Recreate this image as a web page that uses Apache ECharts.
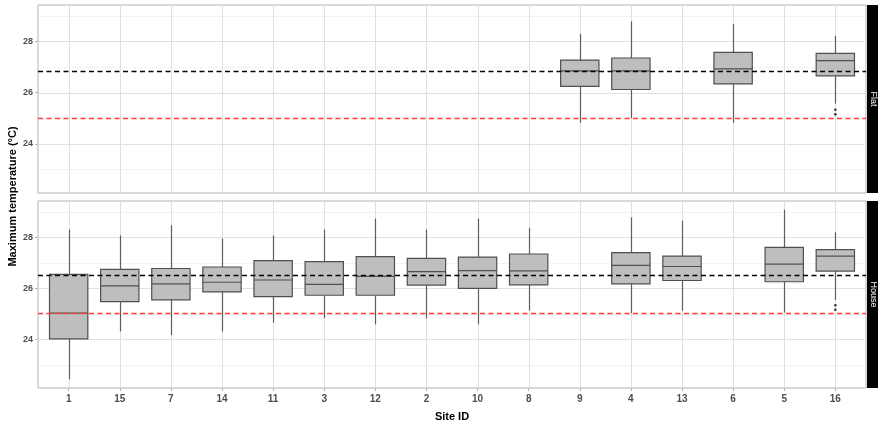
<!DOCTYPE html>
<html><head><meta charset="utf-8">
<script src="https://cdn.jsdelivr.net/npm/echarts@6/dist/echarts.min.js"></script>
<style>html,body{margin:0;padding:0;background:#fff}#c{width:878px;height:423px}</style>
</head><body><div id="c"></div>
<script>
// ---- data ----
const sites = ['1','15','7','14','11','3','12','2','10','8','9','4','13','6','5','16'];
const panelNames = ['Flat','House'];
// [site, lowerWhisker, q1, median, q3, upperWhisker]
const flatBoxes = [
  ['9', 24.82, 26.24, 26.85, 27.27, 28.30],
  ['4', 25.00, 26.12, 26.85, 27.35, 28.78],
  ['6', 24.82, 26.34, 26.93, 27.57, 28.68],
  ['16', 25.57, 26.65, 27.25, 27.53, 28.21]
];
const houseBoxes = [
  ['1', 22.42, 24.01, 25.02, 26.54, 28.30],
  ['15', 24.30, 25.47, 26.09, 26.74, 28.07],
  ['7', 24.16, 25.54, 26.17, 26.77, 28.47],
  ['14', 24.29, 25.85, 26.23, 26.83, 27.95],
  ['11', 24.65, 25.67, 26.32, 27.08, 28.07],
  ['3', 24.82, 25.72, 26.15, 27.04, 28.30],
  ['12', 24.58, 25.72, 26.46, 27.24, 28.73],
  ['2', 24.81, 26.12, 26.65, 27.17, 28.30],
  ['10', 24.58, 25.99, 26.69, 27.22, 28.73],
  ['8', 25.12, 26.13, 26.68, 27.34, 28.37],
  ['4', 25.02, 26.17, 26.89, 27.39, 28.78],
  ['13', 25.11, 26.30, 26.85, 27.26, 28.65],
  ['5', 25.04, 26.25, 26.94, 27.60, 29.08],
  ['16', 25.54, 26.67, 27.26, 27.51, 28.19]
];
const flatOutliers = [['16', 25.33], ['16', 25.15]];
const houseOutliers = [['16', 25.33], ['16', 25.15]];
const panelMeans = [26.85, 26.51];
const threshold = 25;
const yTickValues = [24, 26, 28];
const yMinorValues = [23, 25, 27, 29];

// ---- layout/style ----
const Y_MIN = 22.08, Y_MAX = 29.42;
const X_MIN = 0.4, X_MAX = sites.length + 0.6;
const grids = [
  {left: 38, top: 5, width: 828, height: 188},
  {left: 38, top: 201, width: 828, height: 187}
];
const FONT = '"Liberation Sans", Arial, sans-serif';
const posOf = s => sites.indexOf(s) + 1;
const xPositions = sites.map((s, i) => i + 1);

const boxSets = [flatBoxes, houseBoxes];
const outlierSets = [flatOutliers, houseOutliers];

const chart = echarts.init(document.getElementById('c'), null, {renderer: 'canvas'});

const xAxes = [], yAxes = [], series = [], gridOpts = [];
grids.forEach((g, i) => {
  gridOpts.push(Object.assign({show: true, borderColor: '#b3b3b3', borderWidth: 1, backgroundColor: 'transparent', containLabel: false}, g));
  const isBottom = i === grids.length - 1;
  xAxes.push({
    type: 'value', gridIndex: i, min: X_MIN, max: X_MAX,
    axisLine: {show: false}, splitLine: {show: false},
    axisTick: {show: isBottom, customValues: xPositions, length: 3, lineStyle: {color: '#b3b3b3'}},
    axisLabel: {show: isBottom, customValues: xPositions, margin: 6,
      formatter: v => sites[Math.round(v) - 1] || '',
      color: '#4d4d4d', fontSize: 10, fontWeight: 'bold', fontFamily: FONT},
    name: isBottom ? 'Site ID' : '', nameLocation: 'middle', nameGap: 23,
    nameTextStyle: {color: '#000', fontSize: 11, fontWeight: 'bold', fontFamily: FONT}
  });
  yAxes.push({
    type: 'value', gridIndex: i, min: Y_MIN, max: Y_MAX,
    axisLine: {show: false}, splitLine: {show: false},
    axisTick: {show: true, customValues: yTickValues, length: 3, lineStyle: {color: '#b3b3b3'}},
    axisLabel: {show: true, customValues: yTickValues, margin: 5,
      color: '#4d4d4d', fontSize: 9, fontWeight: 'bold', fontFamily: FONT}
  });
  // gridlines (custom series, drawn beneath the boxes)
  const gridData = [
    ...yMinorValues.map(v => [0, v, 0]),
    ...yTickValues.map(v => [0, v, 1]),
    ...xPositions.map(v => [1, v, 1])
  ];
  series.push({
    type: 'custom', xAxisIndex: i, yAxisIndex: i, z: 1, silent: true, animation: false, clip: true,
    data: gridData,
    encode: {x: -1, y: -1},
    renderItem: (params, api) => {
      const cs = params.coordSys;
      const kind = api.value(0), v = api.value(1), major = api.value(2);
      const style = {stroke: major ? '#e0e0e0' : '#eeeeee', lineWidth: major ? 1 : 0.7};
      if (kind === 0) {
        const y = Math.round(api.coord([X_MIN, v])[1]) + 0.5;
        return {type: 'line', shape: {x1: cs.x, y1: y, x2: cs.x + cs.width, y2: y}, style};
      }
      const x = Math.round(api.coord([v, Y_MIN])[0]) + 0.5;
      return {type: 'line', shape: {x1: x, y1: cs.y, x2: x, y2: cs.y + cs.height}, style};
    }
  });
  // boxes
  series.push({
    type: 'custom', xAxisIndex: i, yAxisIndex: i, z: 3, clip: true, animation: false,
    encode: {x: 0, y: [1, 2, 3, 4, 5]},
    data: boxSets[i].map(r => [posOf(r[0]), r[1], r[2], r[3], r[4], r[5]]),
    renderItem: (params, api) => {
      const x = api.value(0);
      const lo = api.coord([x, api.value(1)]);
      const q1 = api.coord([x - 0.375, api.value(2)]);
      const med = api.coord([x, api.value(3)]);
      const q3 = api.coord([x + 0.375, api.value(4)]);
      const hi = api.coord([x, api.value(5)]);
      const cx = Math.round(med[0]) + 0.5;
      const stroke = '#505050';
      const wStroke = '#5e5e5e';
      return {type: 'group', children: [
        {type: 'line', shape: {x1: cx, y1: hi[1], x2: cx, y2: q3[1]}, style: {stroke: wStroke, lineWidth: 1.2}},
        {type: 'line', shape: {x1: cx, y1: q1[1], x2: cx, y2: lo[1]}, style: {stroke: wStroke, lineWidth: 1.2}},
        {type: 'rect', shape: {x: q1[0], y: q3[1], width: q3[0] - q1[0], height: q1[1] - q3[1]},
          style: {fill: '#bebebe', stroke, lineWidth: 1.2}},
        {type: 'line', shape: {x1: q1[0], y1: med[1], x2: q3[0], y2: med[1]}, style: {stroke, lineWidth: 1.2}}
      ]};
    }
  });
  // outliers
  series.push({
    type: 'scatter', xAxisIndex: i, yAxisIndex: i, z: 4, silent: true, animation: false,
    symbol: 'circle', symbolSize: 2.6, itemStyle: {color: '#333', opacity: 1, borderWidth: 0},
    data: outlierSets[i].map(r => [posOf(r[0]), r[1]])
  });
  // reference lines
  series.push({
    type: 'line', xAxisIndex: i, yAxisIndex: i, data: [], silent: true, z: 5,
    markLine: {
      silent: true, symbol: ['none', 'none'], label: {show: false}, animation: false,
      data: [
        {yAxis: panelMeans[i], lineStyle: {color: '#000', width: 1.4, type: [5, 3.5]}},
        {yAxis: threshold, lineStyle: {color: '#ff3b3b', width: 1.4, type: [5, 3.5]}}
      ]
    }
  });
});

// strips and y title
const graphics = [];
grids.forEach((g, i) => {
  graphics.push({type: 'rect', left: 867, top: g.top, shape: {width: 11, height: g.height}, style: {fill: '#000'}, silent: true});
  graphics.push({type: 'text', x: 873, y: g.top + g.height / 2, rotation: -Math.PI / 2,
    style: {text: panelNames[i], fill: '#fff', font: '9px ' + FONT, textAlign: 'center', textVerticalAlign: 'middle'}, silent: true});
});
graphics.push({type: 'text', x: 13, y: (grids[0].top + grids[1].top + grids[1].height) / 2, rotation: Math.PI / 2,
  style: {text: 'Maximum temperature (°C)', fill: '#000', font: 'bold 11px ' + FONT, textAlign: 'center', textVerticalAlign: 'middle'}, silent: true});

chart.setOption({
  animation: false,
  backgroundColor: '#fff',
  grid: gridOpts,
  xAxis: xAxes,
  yAxis: yAxes,
  series: series,
  graphic: graphics
});
</script>
</body></html>
